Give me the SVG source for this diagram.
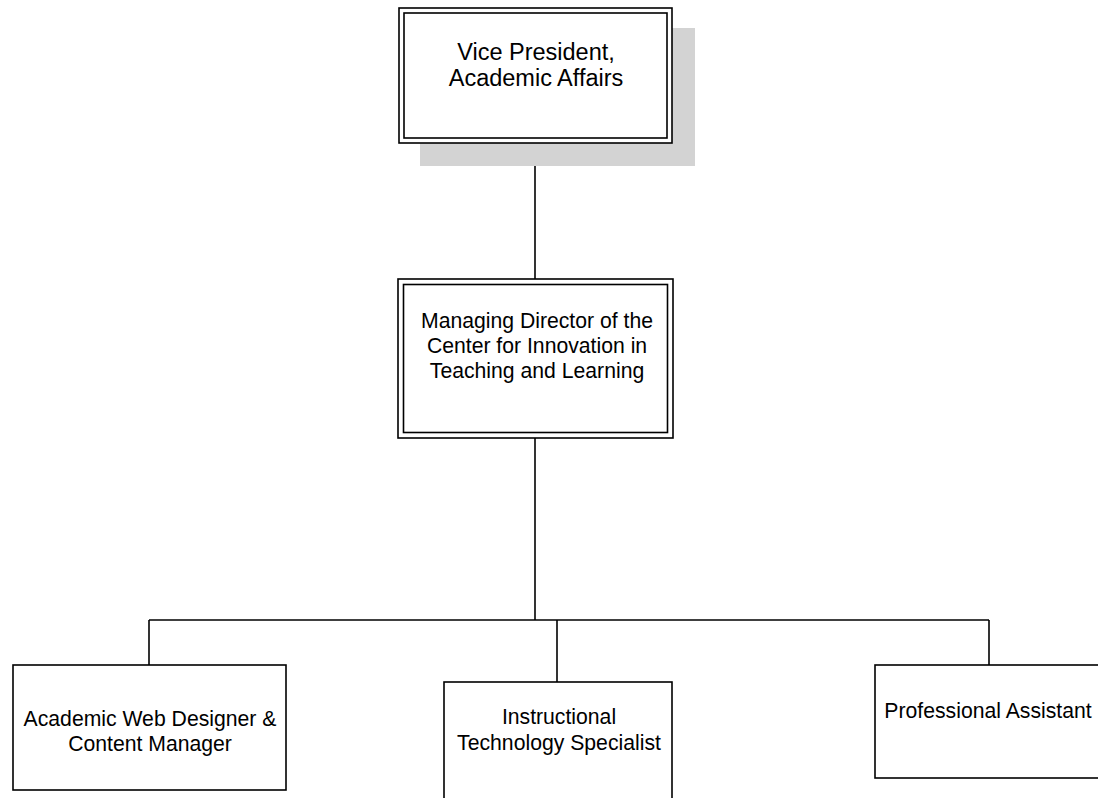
<svg xmlns="http://www.w3.org/2000/svg" width="1098" height="798" viewBox="0 0 1098 798">
<style>
.box{fill:#fff;stroke:#000;stroke-width:1.6}
.shadow{fill:#d3d3d3;stroke:none}
.conn{fill:none;stroke:#000;stroke-width:1.6}
text{font-family:"Liberation Sans",Arial,sans-serif;font-size:21.2px;fill:#000;text-anchor:middle}
.big{font-size:23.5px}
</style>
<rect width="1098" height="798" fill="#fff"/>
<g id="connectors">
<path class="conn" d="M535,143 V279"/>
<path class="conn" d="M535,438 V620"/>
<path class="conn" d="M149,620 H989"/>
<path class="conn" d="M149,620 V665"/>
<path class="conn" d="M557,620 V682"/>
<path class="conn" d="M989,620 V665"/>
</g>
<g id="vp">
<rect class="shadow" x="420" y="28" width="275" height="138"/>
<rect class="box" x="399" y="8" width="273" height="135"/>
<rect class="box" x="404" y="13" width="263" height="125"/>
<text class="big" x="536" y="60">Vice President,</text>
<text class="big" x="536" y="86">Academic Affairs</text>
</g>
<g id="md">
<rect class="box" x="398" y="279" width="275" height="159"/>
<rect class="box" x="403.5" y="284.5" width="264" height="148"/>
<text x="537" y="328">Managing Director of the</text>
<text x="537" y="353">Center for Innovation in</text>
<text x="537" y="378">Teaching and Learning</text>
</g>
<g id="webdesigner">
<rect class="box" x="13" y="665" width="273" height="125"/>
<text x="150" y="726">Academic Web Designer &amp;</text>
<text x="150" y="751">Content Manager</text>
</g>
<g id="its">
<rect class="box" x="444" y="682" width="228" height="130"/>
<text x="559" y="724">Instructional</text>
<text x="559" y="750">Technology Specialist</text>
</g>
<g id="pa">
<rect class="box" x="875" y="665" width="230" height="113"/>
<text x="988" y="718">Professional Assistant</text>
</g>
</svg>
